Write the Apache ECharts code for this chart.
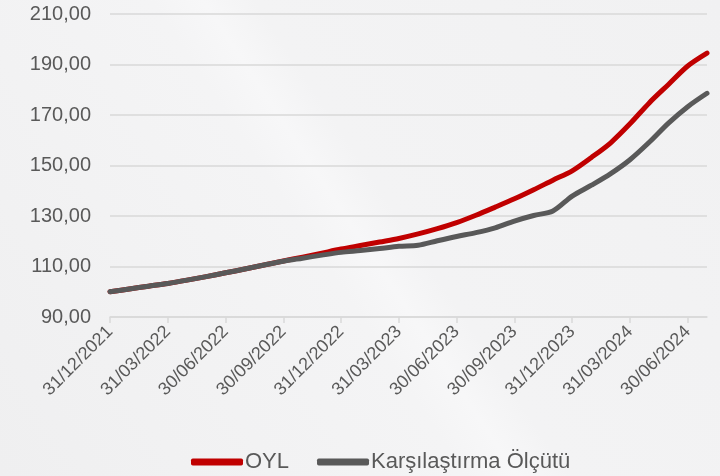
<!DOCTYPE html>
<html>
<head>
<meta charset="utf-8">
<script src="https://cdn.jsdelivr.net/npm/echarts@6/dist/echarts.min.js"></script>
<style>
html,body{margin:0;padding:0;background:#f2f2f3;}
#c{width:720px;height:476px;}
</style>
</head>
<body>
<div id="c"></div>
<script>
const categories = [
  '31/12/2021','31/01/2022','28/02/2022','31/03/2022','30/04/2022','31/05/2022','30/06/2022',
  '31/07/2022','31/08/2022','30/09/2022','31/10/2022','30/11/2022','31/12/2022',
  '31/01/2023','28/02/2023','31/03/2023','30/04/2023','31/05/2023','30/06/2023',
  '31/07/2023','31/08/2023','30/09/2023','31/10/2023','30/11/2023','31/12/2023',
  '31/01/2024','29/02/2024','31/03/2024','30/04/2024','31/05/2024','30/06/2024','31/07/2024'
];
const oyl = [
  100.0, 101.1, 102.2, 103.3, 104.6, 106.0, 107.5,
  109.0, 110.6, 112.2, 113.7, 115.3, 116.9,
  118.3, 119.7, 121.1, 122.9, 125.0, 127.4,
  130.3, 133.5, 136.8, 140.4, 144.2, 147.9,
  153.2, 159.0, 166.5, 174.8, 182.1, 189.4, 194.5
];
const benchmark = [
  100.0, 101.1, 102.2, 103.3, 104.6, 106.0, 107.5,
  109.0, 110.6, 112.1, 113.3, 114.5, 115.6,
  116.3, 117.1, 118.0, 118.4, 120.2, 121.9,
  123.4, 125.3, 128.0, 130.2, 132.0, 137.9,
  142.2, 146.8, 152.3, 159.2, 166.8, 173.3, 178.6
];
const seriesNames = ['OYL', 'Karşılaştırma Ölçütü'];
const yMin = 90, yMax = 210, yStep = 20;

const font = '"Liberation Sans", Arial, sans-serif';
const chart = echarts.init(document.getElementById('c'), null, {renderer: 'canvas'});
const quarterly = (i) => i % 3 === 0;
chart.setOption({
  backgroundColor: new echarts.graphic.LinearGradient(0, 1, 1, 0, [
    {offset: 0, color: '#efeff0'},
    {offset: 0.45, color: '#f4f4f5'},
    {offset: 0.5, color: '#f7f7f8'},
    {offset: 0.55, color: '#f3f3f4'},
    {offset: 1, color: '#f1f1f2'}
  ]),
  animation: false,
  grid: {left: 110, right: 13, top: 14, bottom: 159, containLabel: false},
  legend: {
    top: 446,
    left: 186,
    icon: 'roundRect',
    itemWidth: 52,
    itemHeight: 7,
    itemGap: 28,
    textStyle: {fontFamily: font, fontSize: 22, color: '#595959', padding: [0, 0, 0, -3]},
    data: seriesNames
  },
  xAxis: {
    type: 'category',
    data: categories,
    boundaryGap: false,
    axisLine: {lineStyle: {color: '#d9d9d9', width: 1.5}},
    axisTick: {show: true, interval: quarterly, length: 6, lineStyle: {color: '#d9d9d9', width: 1.5}},
    axisLabel: {
      interval: quarterly,
      rotate: 45,
      margin: 12,
      fontFamily: font,
      fontSize: 18,
      color: '#595959'
    },
    splitLine: {show: false}
  },
  yAxis: {
    type: 'value',
    min: yMin,
    max: yMax,
    interval: yStep,
    axisLine: {show: false},
    axisTick: {show: false},
    axisLabel: {
      margin: 19,
      fontFamily: font,
      fontSize: 20,
      color: '#595959',
      formatter: (v) => v.toFixed(2).replace('.', ',')
    },
    splitLine: {lineStyle: {color: '#d9d9d9', width: 1.5}}
  },
  series: [
    {
      name: seriesNames[0],
      type: 'line',
      data: oyl,
      showSymbol: false,
      symbol: 'none',
      smooth: 0.3,
      z: 3,
      lineStyle: {color: '#c00000', width: 5, cap: 'round', join: 'round'},
      itemStyle: {color: '#c00000'}
    },
    {
      name: seriesNames[1],
      type: 'line',
      data: benchmark,
      showSymbol: false,
      symbol: 'none',
      smooth: 0.3,
      z: 4,
      lineStyle: {color: '#595959', width: 5, cap: 'round', join: 'round'},
      itemStyle: {color: '#595959'}
    }
  ]
});
</script>
</body>
</html>
